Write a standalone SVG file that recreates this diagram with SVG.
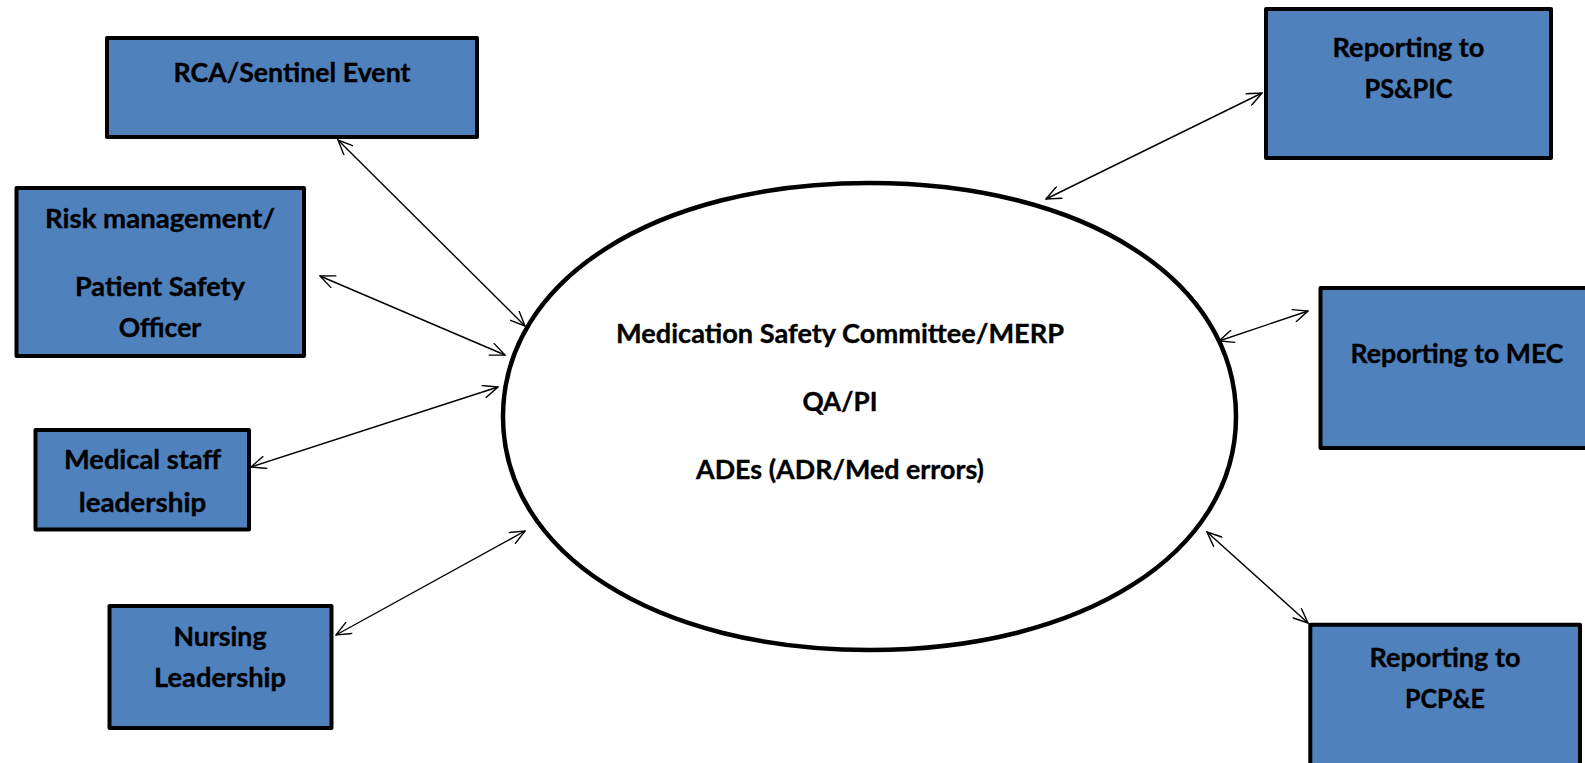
<svg xmlns="http://www.w3.org/2000/svg" width="1585" height="763" viewBox="0 0 1585 763">
<style>
.box{fill:#4f81bd;stroke:#000;stroke-width:4;stroke-linejoin:round}
.lbl{font-family:Lato,"Open Sans","Liberation Sans",sans-serif;font-weight:bold;font-size:26px;fill:#000;stroke:#000;stroke-width:0.35;text-anchor:middle}
.con{stroke:#000;stroke-width:1.4;fill:none;marker-start:url(#ah);marker-end:url(#ah)}
</style>
<defs>
<marker id="ah" viewBox="0 0 17 14" refX="16" refY="7" markerWidth="17" markerHeight="14" markerUnits="userSpaceOnUse" orient="auto-start-reverse">
<path d="M1,0.5 L16,7 L1,13.5" fill="none" stroke="#000" stroke-width="1.4"/>
</marker>
</defs>
<rect width="1585" height="763" fill="#fff"/>
<g id="connectors">
<line class="con" x1="338" y1="140" x2="525" y2="326"/>
<line class="con" x1="320" y1="276" x2="505" y2="355"/>
<line class="con" x1="251" y1="467" x2="498" y2="387"/>
<line class="con" x1="336" y1="635" x2="525" y2="531"/>
<line class="con" x1="1262" y1="93" x2="1046" y2="199"/>
<line class="con" x1="1219" y1="341" x2="1308" y2="311"/>
<line class="con" x1="1207" y1="532" x2="1308" y2="623"/>
</g>
<g id="committee">
<path d="M1236,416.5 C1236,553.1 1083.9,650 869.5,650 C655.1,650 503,553.1 503,416.5 C503,279.9 655.1,183 869.5,183 C1083.9,183 1236,279.9 1236,416.5 Z" fill="#fff" stroke="#000" stroke-width="4.5"/>
<text class="lbl" x="840" y="343" textLength="448" lengthAdjust="spacingAndGlyphs">Medication Safety Committee/MERP</text>
<text class="lbl" x="840" y="411" textLength="75" lengthAdjust="spacingAndGlyphs">QA/PI</text>
<text class="lbl" x="840" y="479" textLength="288" lengthAdjust="spacingAndGlyphs">ADEs (ADR/Med errors)</text>
</g>
<g id="rca">
<rect class="box" x="107" y="38" width="370" height="99"/>
<text class="lbl" x="292" y="82" textLength="237" lengthAdjust="spacingAndGlyphs">RCA/Sentinel Event</text>
</g>
<g id="risk">
<rect class="box" x="16.5" y="188" width="287.5" height="168"/>
<text class="lbl" x="160" y="228" textLength="230" lengthAdjust="spacingAndGlyphs">Risk management/</text>
<text class="lbl" x="160" y="296" textLength="170" lengthAdjust="spacingAndGlyphs">Patient Safety</text>
<text class="lbl" x="160" y="337" textLength="82.5" lengthAdjust="spacingAndGlyphs">Officer</text>
</g>
<g id="medical">
<rect class="box" x="35.5" y="430" width="213.5" height="99.5"/>
<text class="lbl" x="142.5" y="469" textLength="157" lengthAdjust="spacingAndGlyphs">Medical staff</text>
<text class="lbl" x="142.5" y="512" textLength="127.5" lengthAdjust="spacingAndGlyphs">leadership</text>
</g>
<g id="nursing">
<rect class="box" x="109.5" y="606" width="222" height="122"/>
<text class="lbl" x="220" y="646" textLength="93" lengthAdjust="spacingAndGlyphs">Nursing</text>
<text class="lbl" x="220" y="687" textLength="132" lengthAdjust="spacingAndGlyphs">Leadership</text>
</g>
<g id="pspic">
<rect class="box" x="1266" y="9" width="285" height="149"/>
<text class="lbl" x="1408.5" y="57" textLength="152" lengthAdjust="spacingAndGlyphs">Reporting to</text>
<text class="lbl" x="1408.5" y="98" textLength="88" lengthAdjust="spacingAndGlyphs">PS&amp;PIC</text>
</g>
<g id="mec">
<rect class="box" x="1320.5" y="288" width="300" height="160"/>
<text class="lbl" x="1457" y="363" textLength="213" lengthAdjust="spacingAndGlyphs">Reporting to MEC</text>
</g>
<g id="pcpe">
<rect class="box" x="1310.3" y="624.7" width="269.7" height="200"/>
<text class="lbl" x="1445" y="667" textLength="151" lengthAdjust="spacingAndGlyphs">Reporting to</text>
<text class="lbl" x="1445" y="708" textLength="80" lengthAdjust="spacingAndGlyphs">PCP&amp;E</text>
</g>
</svg>
